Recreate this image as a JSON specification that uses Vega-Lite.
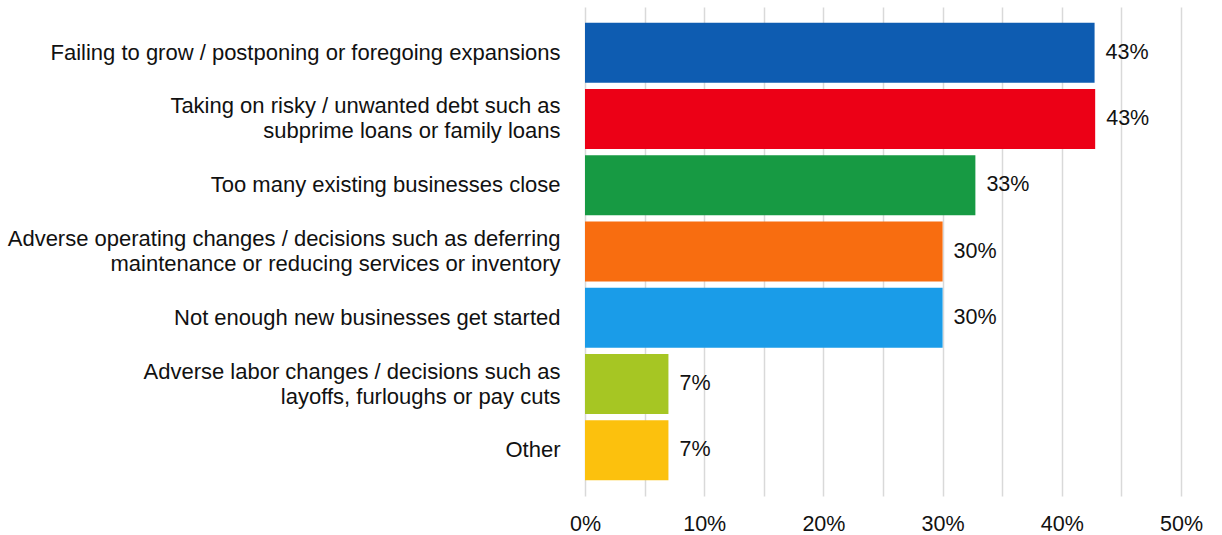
{
  "$schema": "https://vega.github.io/schema/vega-lite/v6.json",
  "autosize": {"type": "none"},
  "padding": {"left": 585, "top": 7, "right": 41, "bottom": 39},
  "width": 596,
  "height": 489,
  "background": "white",
  "config": {
    "view": {"stroke": null},
    "font": "Liberation Sans"
  },
  "data": {
    "values": [
      {"cause": "Failing to grow / postponing or foregoing expansions", "share": 0.4275},
      {"cause": "Taking on risky / unwanted debt such as|subprime loans or family loans", "share": 0.428},
      {"cause": "Too many existing businesses close", "share": 0.3275},
      {"cause": "Adverse operating changes / decisions such as deferring|maintenance or reducing services or inventory", "share": 0.30},
      {"cause": "Not enough new businesses get started", "share": 0.30},
      {"cause": "Adverse labor changes / decisions such as|layoffs, furloughs or pay cuts", "share": 0.07},
      {"cause": "Other", "share": 0.07}
    ]
  },
  "encoding": {
    "y": {
      "field": "cause",
      "type": "nominal",
      "sort": null,
      "scale": {"paddingInner": 0.095, "paddingOuter": 0.237},
      "axis": {
        "title": null,
        "domain": false,
        "ticks": false,
        "labelPadding": 25,
        "labelFontSize": 22,
        "labelColor": "#111111",
        "labelFont": "Liberation Sans",
        "labelLimit": 700,
        "labelLineHeight": 25,
        "labelOffset": {"condition": {"test": "indexof(datum.value, '|') >= 0", "value": -12.5}, "value": 0},
        "labelExpr": "split(datum.label, '|')"
      }
    },
    "x": {
      "field": "share",
      "type": "quantitative",
      "scale": {"domain": [0, 0.5], "nice": false},
      "axis": {
        "title": null,
        "values": [0, 0.05, 0.1, 0.15, 0.2, 0.25, 0.3, 0.35, 0.4, 0.45, 0.5],
        "format": ".0%",
        "labelExpr": "round(datum.value * 100) % 10 == 0 ? datum.label : ''",
        "labelFlush": false,
        "labelOverlap": false,
        "domain": false,
        "ticks": false,
        "grid": true,
        "gridColor": "#D9D9D9",
        "gridWidth": 1.5,
        "labelPadding": 17,
        "labelFontSize": 21.5,
        "labelColor": "#111111",
        "labelFont": "Liberation Sans"
      }
    }
  },
  "layer": [
    {
      "mark": {"type": "bar"},
      "encoding": {
        "color": {
          "field": "cause",
          "type": "nominal",
          "sort": null,
          "legend": null,
          "scale": {
            "range": ["#0E5CB1", "#EC0016", "#179A43", "#F86D10", "#1A9CE8", "#A6C623", "#FCC10D"]
          }
        }
      }
    },
    {
      "mark": {"type": "text", "align": "left", "baseline": "middle", "dx": 11, "fontSize": 21.5, "color": "#111111", "font": "Liberation Sans"},
      "encoding": {
        "text": {"field": "share", "type": "quantitative", "format": ".0%"}
      }
    }
  ]
}
